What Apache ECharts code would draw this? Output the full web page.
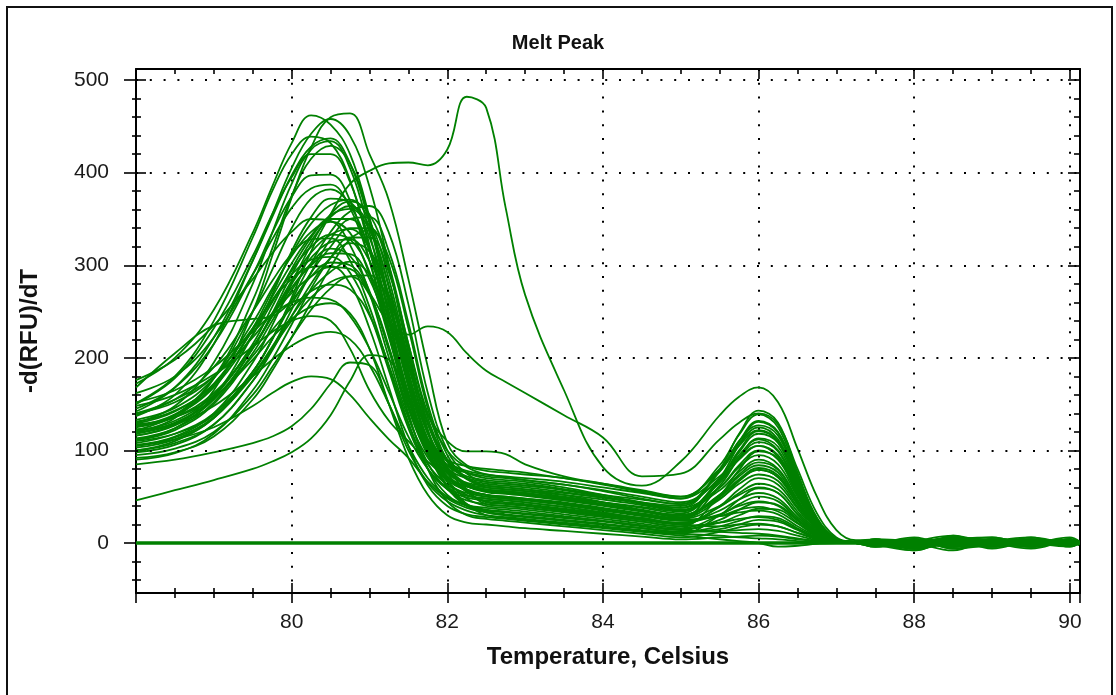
<!DOCTYPE html>
<html>
<head>
<meta charset="utf-8">
<script src="https://cdn.jsdelivr.net/npm/echarts@6/dist/echarts.min.js"></script>
<style>
  html, body { margin: 0; padding: 0; background: #fff; }
  #chart { width: 1116px; height: 695px; }
</style>
</head>
<body>
<div id="chart"></div>
<script>
// Temperature grid (Celsius) shared by all wells
const temps = [78, 78.5, 79, 79.5, 79.75, 80, 80.25, 80.5, 80.75, 81, 81.25, 81.5, 81.75, 82, 82.25, 82.5, 82.75, 83, 83.5, 84, 84.5, 85, 85.5, 85.75, 86, 86.25, 86.5, 86.75, 87, 87.25, 87.5, 88, 88.5, 89, 89.5, 90, 90.12];

// -d(RFU)/dT values, one row per well
const tallPeakWells = [
  [172,200,252,335,385,432,462,452,420,352,263,180,118,88,78,74,71,68,63,56,48,42, 70,95,112,100,59,22,3,1, 2,-6,8,0,4,2,0],
  [123,129,165,250,310,373,427,460,464,420,370,285,190,108,84,78,76,74,70,63,55,48, 84,117,139,125,73,27,4,1, -2,-8,4,-2,2,-2,0],
  [137,160,215,305,355,405,442,458,440,385,300,205,130,90,76,70,68,66,60,52,44,38, 60,82,95,85,50,19,3,0, 2,-4,6,2,-2,4,0],
  [142,168,222,305,352,397,428,437,410,345,258,172,112,84,72,68,66,64,58,50,42,35, 69,100,121,109,64,23,4,1, 0,4,-6,2,6,0,2],
  [130,148,195,280,335,388,425,434,405,335,245,160,102,75,65,62,60,58,52,44,36,30, 50,68,79,71,42,16,2,0, -2,2,8,-4,0,2,-2],
  [120,135,178,262,318,375,415,429,410,350,265,175,110,78,63,58,56,54,49,42,35,28, 70,106,131,119,69,24,4,1, 4,-4,2,0,-6,2,0],
  [150,178,232,310,355,395,420,420,390,322,238,160,108,84,76,72,70,68,63,57,50,44, 68,90,105,93,55,20,3,1, 0,-8,4,2,0,4,-2],
  [151,180,240,330,380,420,439,432,392,318,232,158,112,90,83,80,78,76,70,64,57,50, 78,105,122,110,65,24,4,1, 2,4,-2,0,4,0,0],
  [145,168,215,290,335,374,397,398,370,305,225,148,98,72,61,56,54,52,46,40,34,28, 52,74,87,79,46,17,3,0, -2,4,0,2,-2,0,2]
];
const midPeakWells = [
  [162,180,222,290,328,362,383,387,362,305,230,155,105,80,70,66,64,62,57,50,43,36, 57,77,90,80,47,17,3,0, 2,-2,6,-4,4,0,2],
  [122,138,178,250,295,340,372,382,365,315,240,162,106,76,64,60,58,56,50,44,38,32, 67,98,118,108,63,23,4,1, -4,0,4,6,-2,2,0],
  [112,124,158,225,268,315,352,372,368,330,260,178,112,78,62,56,54,52,47,41,35,30, 48,64,74,67,39,15,2,0, 0,6,-4,0,4,-2,0],
  [106,115,140,195,235,280,322,355,369,355,300,215,135,90,70,64,62,60,55,49,43,38, 80,118,143,130,76,27,5,1, 4,-6,0,2,-4,4,2],
  [116,128,158,215,255,296,330,354,361,338,278,195,122,82,64,58,56,54,49,44,39,34, 60,84,100,90,53,19,3,0, -2,2,4,-6,2,0,0],
  [100,108,128,175,210,252,292,328,350,352,315,238,150,95,70,60,58,56,52,47,41,35, 65,92,109,99,58,21,4,1, 2,0,-8,4,0,6,2],
  [133,146,178,238,275,310,336,347,335,290,222,150,98,70,57,52,50,48,43,37,31,26, 40,52,60,54,31,12,2,0, -2,4,2,-2,6,-4,0],
  [116,127,155,210,246,283,314,333,339,318,262,185,118,80,62,55,53,51,46,41,35,30, 52,72,84,76,44,16,2,0, 0,-4,6,0,-2,2,0],
  [126,138,168,225,260,294,320,333,328,293,228,155,98,66,52,48,46,44,39,33,27,22, 35,47,54,48,28,11,2,0, 4,2,-4,4,0,-2,2],
  [139,155,190,250,283,312,328,329,305,255,190,128,85,63,54,50,48,46,41,35,29,24, 29,36,39,34,21,8,1,0, -4,0,2,6,-2,0,-2],
  [98,106,128,175,208,245,280,308,324,315,268,192,120,76,55,45,43,41,36,31,25,20, 40,58,70,63,37,13,2,0, 2,-6,4,0,4,2,0],
  [111,122,150,205,240,273,302,318,310,272,208,138,86,58,46,42,40,38,33,28,23,18, 22,26,28,25,15,6,1,0, 0,4,-2,-4,2,0,2],
  [121,132,160,212,245,276,300,313,312,285,228,160,104,72,56,50,48,46,42,37,31,26, 62,92,113,104,60,21,4,1, -2,2,4,0,-4,4,0],
  [129,142,172,230,262,290,306,309,292,248,186,124,80,58,49,46,44,42,37,32,26,21, 39,54,64,58,34,12,2,0, 4,-2,0,2,-4,2,0],
  [105,114,136,182,212,245,273,293,304,290,243,172,108,68,48,40,38,36,31,26,21,16, 30,42,50,45,26,10,1,0, 0,0,6,-2,2,-2,2],
  [113,124,152,210,248,290,326,352,364,342,275,185,105,60,40,34,31,29,25,21,16,12, 18,24,29,27,16,6,1,0, 2,-4,0,4,0,-2,2],
  [103,112,135,185,220,258,292,320,340,340,295,210,122,68,42,30,27,25,21,17,13,10, 30,47,59,54,31,11,2,0, 0,4,-6,-2,2,2,0],
  [131,143,172,230,266,302,332,350,350,318,250,168,100,60,42,36,34,32,28,24,19,15, 22,30,37,36,22,8,1,0, -4,2,4,0,-2,4,0],
  [92,98,115,155,186,222,260,298,328,338,308,232,145,88,58,42,40,38,34,29,23,18, 51,79,99,91,52,18,3,0, 2,-2,2,4,0,-4,0],
  [126,139,170,232,272,312,345,365,371,348,285,200,128,88,69,62,60,58,54,49,44,40, 77,110,132,120,70,25,4,1, 0,-6,4,2,0,2,-2],
  [176,198,235,285,313,336,350,348,322,270,200,135,92,70,61,57,55,53,48,42,35,30, 50,69,81,73,43,16,2,0, 2,4,-2,0,-4,2,0],
  [110,118,138,185,220,262,302,336,358,364,335,258,162,100,75,66,64,62,58,52,47,42, 78,110,127,116,68,25,4,1, 2,-2,4,0,-4,2,0],
  [90,97,118,165,198,236,275,308,330,330,292,215,140,100,82,74,72,70,66,60,54,48, 72,92,105,95,57,21,4,1, 2,0,-4,4,0,-2,0]
];
const lowPeakWells = [
  [95,102,120,160,190,222,252,275,288,289,262,200,130,82,56,44,42,40,35,30,25,20, 18,20,21,18,11,5,1,0, -2,4,-4,2,0,4,0],
  [119,130,156,202,230,254,272,279,274,246,192,130,80,52,41,38,36,34,29,24,19,14, 12,11,10,8,5,2,0,0, 2,-2,4,0,-2,0,0],
  [152,165,190,228,247,260,265,263,245,210,163,115,80,60,51,48,46,44,39,33,27,22, 31,40,45,40,24,9,1,0, 0,-6,2,4,0,-2,2],
  [168,205,235,242,245,262,288,303,300,270,210,145,95,68,57,52,50,48,44,38,32,27, 47,67,79,71,42,15,2,0, 4,2,-4,0,2,-2,0],
  [148,160,182,212,228,240,245,240,210,165,132,110,88,70,58,52,49,47,42,36,30,25, 29,33,35,31,18,7,1,0, -4,0,4,-2,2,0,-2],
  [105,112,125,148,162,174,180,177,160,135,112,92,66,48,38,33,30,28,24,20,16,12, 13,14,15,13,8,3,0,0, 0,-4,2,2,-2,0,0],
  [85,90,98,108,115,126,145,172,195,192,150,100,65,45,35,30,28,26,22,18,14,10, 8,6,5,4,2,1,0,0, 2,0,-2,4,0,-2,0],
  [46,57,68,80,88,98,113,138,175,203,198,155,100,62,42,33,30,28,24,20,16,12, 15,20,25,23,14,5,1,0, -2,2,0,-4,2,0,0],
  [140,152,180,232,262,285,298,299,280,232,168,105,62,40,31,28,26,24,20,16,12,8, 4,2,0,-4,-3,-1,0,0, 2,0,-2,2,0,0,0],
  [118,128,148,180,198,213,224,228,220,192,150,105,70,50,40,35,33,31,27,23,18,14, 25,36,44,41,25,9,1,0, 0,2,-4,2,0,-2,0],
  [100,110,135,180,210,240,265,282,288,268,212,140,80,45,30,26,24,22,18,14,10,6, 12,17,20,18,11,4,1,0, 0,-2,2,-4,2,0,0],
  [128,136,158,198,222,242,255,259,248,210,150,92,52,30,22,20,18,16,13,10,7,4, 6,7,8,7,4,2,0,0, -2,2,0,2,-2,2,0]
];
const atypicalWells = [
  [140,155,180,222,248,270,288,298,296,270,238,225,234,228,205,186,174,162,138,114,72,75, 112,130,140,128,80,32,6,1, 0,2,-4,2,4,0,0],
  [108,118,140,185,220,265,315,355,388,402,410,411,408,425,482,470,362,268,165,82,62,88, 138,158,168,152,102,50,14,3, 4,-4,2,0,-2,4,2],
  [125,136,162,212,245,280,308,325,328,305,255,190,138,110,99,99,96,85,72,64,56,50, 80,107,125,112,66,24,4,1, -2,0,6,2,-4,0,0]
];
const blankWell = [0,0,0,0,0,0,0,0,0,0,0,0,0,0,0,0,0,0,0,0,0,0,0,0,0,0,0,0,0,0,0,0,0,0,0,0,0];

// Axis ticks and labels
const yTickLabels = [0, 100, 200, 300, 400, 500];
const yMinorTicks = [-40, -20, 20, 40, 60, 80, 120, 140, 160, 180, 220, 240, 260, 280, 320, 340, 360, 380, 420, 440, 460, 480];
const xTickLabels = [80, 82, 84, 86, 88, 90];

const GREEN = '#008000';
const FONT = 'Liberation Sans, Arial, sans-serif';
const X_MIN = 78, X_MAX = 90.13, Y_MIN = -54, Y_MAX = 512;
const black = { color: '#000', width: 1.6 };
const dotted = { color: '#000', width: 2, type: [2, 11.8] };

function wellSeries(values, width) {
  return {
    type: 'line',
    xAxisIndex: 0,
    yAxisIndex: 0,
    data: temps.map((t, i) => [t, values[i]]),
    showSymbol: false,
    smooth: 0.4,
    silent: true,
    animation: false,
    lineStyle: { color: GREEN, width: width }
  };
}

// Horizontal dotted grid lines at the labelled y values
const gridLineSeries = {
  type: 'line', xAxisIndex: 0, yAxisIndex: 0, data: [], silent: true, z: 1,
  markLine: {
    silent: true, symbol: 'none', animation: false,
    label: { show: false },
    lineStyle: dotted,
    data: yTickLabels.filter(v => v > 0).map(v => ({ yAxis: v }))
  }
};

const series = [gridLineSeries]
  .concat(lowPeakWells.map(v => wellSeries(v, 1.8)))
  .concat(midPeakWells.map(v => wellSeries(v, 1.8)))
  .concat(tallPeakWells.map(v => wellSeries(v, 1.8)))
  .concat(atypicalWells.map(v => wellSeries(v, 1.8)))
  .concat([wellSeries(blankWell, 3.4)]);

function xAx(extra) {
  return Object.assign({
    type: 'value', gridIndex: 0, min: X_MIN, max: X_MAX, interval: 2,
    axisLine: { show: false, onZero: false },
    axisTick: { show: true, inside: true, length: 10, lineStyle: black },
    minorTick: { show: true, splitNumber: 4, length: 5, lineStyle: black },
    axisLabel: { show: false },
    splitLine: { show: false }
  }, extra);
}
function yAx(extra) {
  return Object.assign({
    type: 'value', gridIndex: 0, min: Y_MIN, max: Y_MAX,
    axisLine: { show: false, onZero: false },
    axisTick: { show: true, inside: true, length: 10, lineStyle: black, customValues: yTickLabels },
    minorTick: { show: false },
    axisLabel: { show: false },
    splitLine: { show: false }
  }, extra);
}

const chart = echarts.init(document.getElementById('chart'), null, { renderer: 'canvas' });
chart.setOption({
  animation: false,
  backgroundColor: '#fff',
  title: {
    text: 'Melt Peak', left: 'center', top: 28,
    textStyle: { fontFamily: FONT, fontSize: 20, fontWeight: 'bold', color: '#111' }
  },
  grid: { left: 136, top: 69, right: 36, bottom: 102, containLabel: false },
  xAxis: [
    xAx({
      position: 'bottom',
      axisLine: { show: true, onZero: false, lineStyle: { color: '#000', width: 2 } },
      axisLabel: {
        show: true, margin: 19, fontFamily: FONT, fontSize: 21, color: '#1a1a1a',
        formatter: v => (xTickLabels.indexOf(v) >= 0 ? String(v) : '')
      },
      splitLine: { show: true, lineStyle: dotted },
      name: 'Temperature, Celsius', nameLocation: 'middle', nameGap: 52,
      nameTextStyle: { fontFamily: FONT, fontSize: 24, fontWeight: 'bold', color: '#111' }
    }),
    xAx({ position: 'bottom', axisTick: { show: true, inside: false, length: 10, lineStyle: black } }),
    xAx({
      position: 'top',
      axisLine: { show: true, onZero: false, lineStyle: { color: '#000', width: 2 } }
    })
  ],
  yAxis: [
    yAx({
      position: 'left',
      axisLine: { show: true, onZero: false, lineStyle: { color: '#000', width: 2 } },
      axisLabel: {
        show: true, margin: 27, fontFamily: FONT, fontSize: 21, color: '#1a1a1a',
        customValues: yTickLabels
      },
      name: '-d(RFU)/dT', nameLocation: 'middle', nameGap: 94,
      nameTextStyle: { fontFamily: FONT, fontSize: 24, fontWeight: 'bold', color: '#111' }
    }),
    yAx({ position: 'left', axisTick: { show: true, inside: true, length: 5, lineStyle: black, customValues: yMinorTicks } }),
    yAx({ position: 'left', axisTick: { show: true, inside: false, length: 12, lineStyle: black, customValues: yTickLabels } }),
    yAx({ position: 'left', axisTick: { show: true, inside: false, length: 4, lineStyle: black, customValues: yMinorTicks } }),
    yAx({
      position: 'right',
      axisLine: { show: true, onZero: false, lineStyle: { color: '#000', width: 2 } },
      axisTick: { show: true, inside: true, length: 12, lineStyle: black, customValues: yTickLabels }
    }),
    yAx({ position: 'right', axisTick: { show: true, inside: true, length: 6, lineStyle: black, customValues: yMinorTicks } })
  ],
  graphic: [{
    type: 'rect', silent: true, z: 100,
    shape: { x: 7, y: 7, width: 1105, height: 710 },
    style: { fill: 'none', stroke: '#111', lineWidth: 2 }
  }],
  series: series
});
</script>
</body>
</html>
